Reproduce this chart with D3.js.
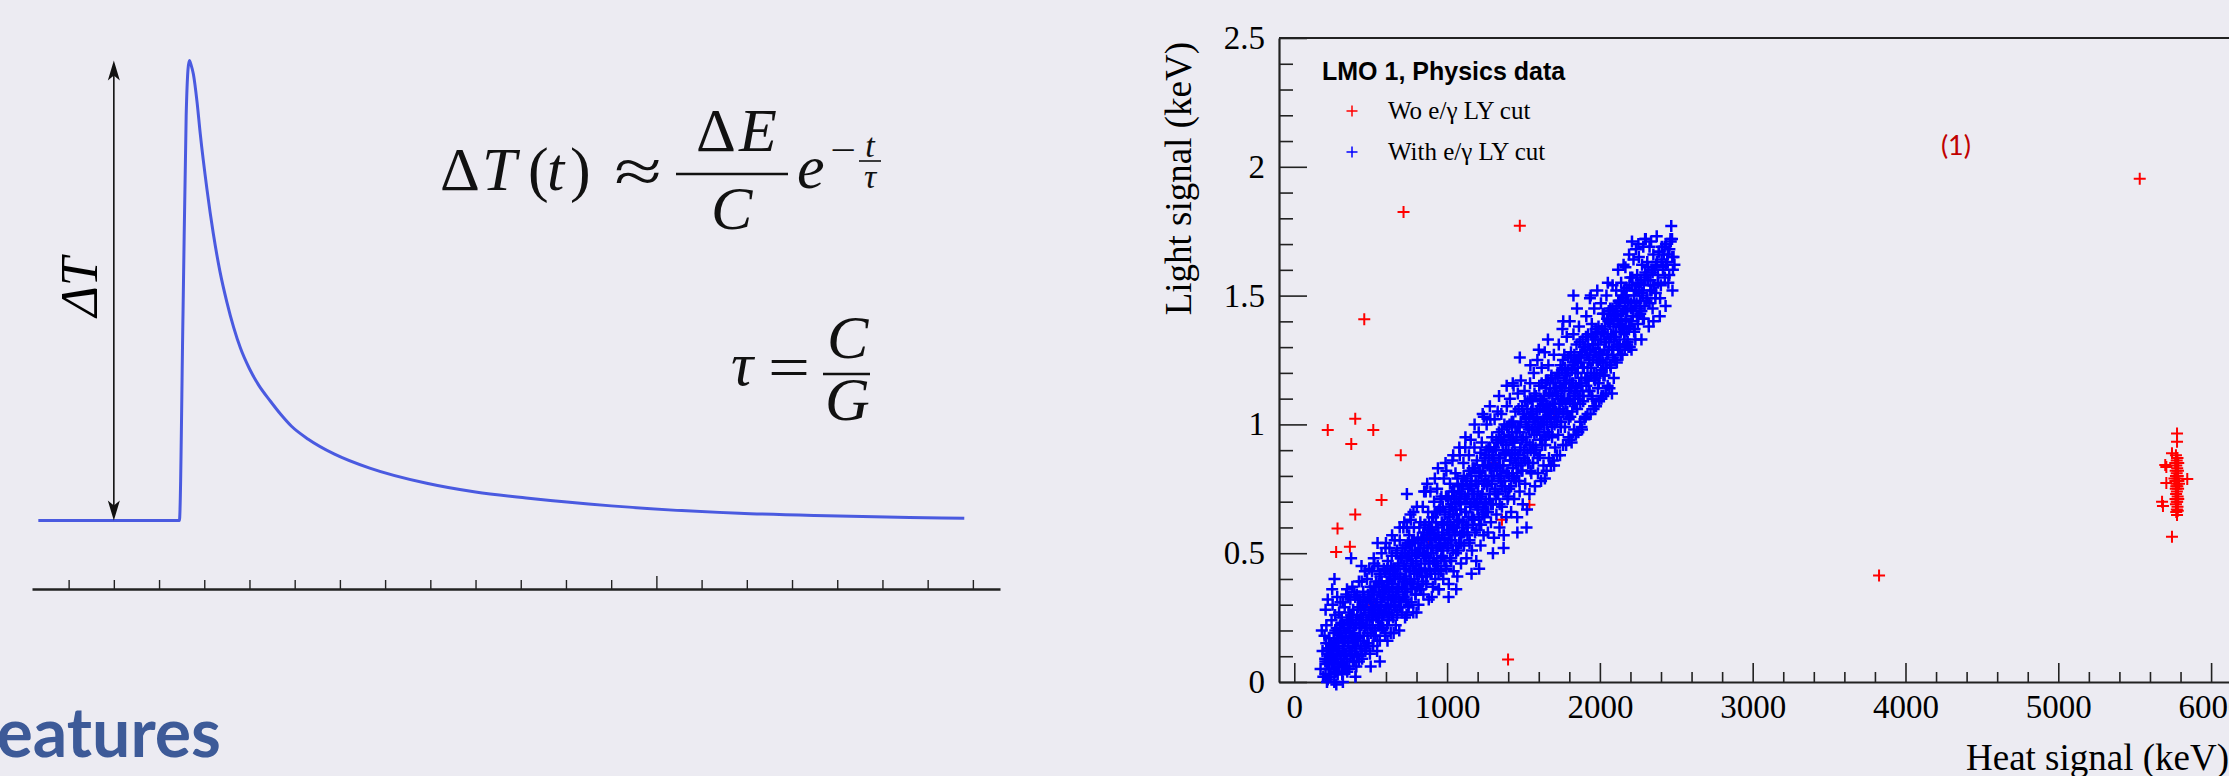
<!DOCTYPE html>
<html>
<head>
<meta charset="utf-8">
<script src="https://cdn.jsdelivr.net/npm/d3@7"></script>
<style>
body { margin: 0; background: #ecebf2; }
svg { display: block; }
</style>
</head>
<body>
<div id="panel"></div>
<script>
// ---- left sketch: thermal pulse ----
var pulseT = [-0.67, 2.45, 2.53, 2.60, 2.64, 2.67, 2.71, 2.76, 2.84, 2.91, 3.06, 3.20, 3.35, 3.50, 3.65, 3.80, 4.00, 4.20, 4.46, 4.70, 4.93, 5.30, 5.87, 6.66, 7.92, 9.00, 10.12, 12.00, 14.83, 16.50, 18.60, 19.81];
var pulseV = [0, 0, 0.45, 0.88, 0.98, 1.0, 0.99, 0.97, 0.91, 0.842, 0.72, 0.624, 0.54, 0.475, 0.42, 0.375, 0.33, 0.295, 0.26, 0.23, 0.205, 0.177, 0.145, 0.114, 0.081, 0.062, 0.049, 0.032, 0.016, 0.011, 0.007, 0.005];
var pulseTicks = [0, 1, 2, 3, 4, 5, 6, 7, 8, 9, 10, 11, 12, 13, 14, 15, 16, 17, 18, 19, 20];

// ---- right chart: light vs heat ----
var xTicks = [0, 1000, 2000, 3000, 4000, 5000, 6000];
var yTicks = [0, 0.5, 1, 1.5, 2, 2.5];
var yTickLabels = ["0", "0.5", "1", "1.5", "2", "2.5"];
var seriesNames = ["Wo e/\u03b3 LY cut", "With e/\u03b3 LY cut"];

// events without the e/gamma light-yield cut (only the visible ones matter)
var woCut = [
  [715,1.825],[1476,1.771],[5533,1.954],[458,1.408],[219,0.978],[399,1.022],[517,0.978],[373,0.924],
  [697,0.880],[571,0.707],[399,0.650],[283,0.596],[274,0.505],[364,0.525],[1539,0.688],[1359,0.630],
  [3827,0.413],[1399,0.087],[520,0.30],[880,0.55],[1300,0.85],[1700,1.05],
  [5777,0.965],[5777,0.933],[5744,0.888],[5700,0.842],[5707,0.835],[5707,0.773],[5844,0.788],[5679,0.700],
  [5685,0.683],[5744,0.564],[5777,0.648],
  [5770,0.88],[5780,0.87],[5775,0.86],[5765,0.85],[5785,0.85],[5772,0.84],[5778,0.83],[5768,0.82],
  [5783,0.82],[5775,0.81],[5770,0.80],[5780,0.79],[5766,0.78],[5786,0.78],[5774,0.77],[5779,0.76],
  [5769,0.75],[5784,0.75],[5776,0.74],[5771,0.73],[5781,0.72],[5767,0.71],[5785,0.71],[5775,0.70],
  [5770,0.69],[5780,0.68],[5776,0.67],[5772,0.66],[5782,0.665],[5778,0.70],[5772,0.76],[5782,0.80],
  [5790,0.77],[5760,0.79]
];

// events passing the cut: scattered part of the band
var withCutEdge = [
  [172,0.05],[185,0.12],[190,0.02],[198,0.18],[203,0.08],[210,0.22],[214,0.0],[219,0.13],[224,0.05],[228,0.17],[205,0.28],[219,0.32],[180,0.20],[232,0.10],
  [236,0.02],[240,0.15],[244,0.24],[247,0.07],[251,0.30],[254,0.11],[258,0.19],[262,0.0],[265,0.04],[267,0.26],[270,0.14],[274,0.09],[277,0.21],[281,0.33],[284,0.03],[287,0.17],[290,0.12],[293,0.27],[296,0.06],[299,0.22],[263,0.40],[275,-0.01],[248,0.36],
  [302,0.31],[305,0.09],[308,0.18],[311,0.25],[314,0.03],[318,0.31],[321,0.14],[324,0.22],[327,0.06],[330,0.29],[334,0.11],[337,0.19],[340,0.34],[344,0.08],[347,0.24],[350,0.15],[353,0.33],[357,0.27],[360,0.05],[363,0.20],[367,0.32],[370,0.12],[373,0.23],[377,0.17],[372,0.48],[345,0.36],[318,0.0],[380,0.37],
  [383,0.08],[386,0.28],[389,0.19],[393,0.35],[396,0.13],[399,0.33],[403,0.24],[406,0.06],[409,0.34],[413,0.17],[416,0.29],[420,0.10],[423,0.39],[427,0.21],[430,0.32],[434,0.14],[437,0.26],[441,0.39],[444,0.09],[448,0.23],[451,0.35],[455,0.18],[458,0.28],[462,0.43],[465,0.12],[469,0.31],[440,0.45],[400,0.02],
  [473,0.22],[476,0.40],[480,0.15],[484,0.33],[487,0.26],[491,0.44],[495,0.11],[498,0.37],[502,0.19],[505,0.29],[509,0.43],[513,0.24],[516,0.14],[520,0.34],[524,0.46],[527,0.27],[531,0.18],[535,0.39],[538,0.31],[542,0.12],[546,0.45],[549,0.22],[553,0.35],[557,0.28],[560,0.16],[564,0.41],[568,0.30],[571,0.50],[575,0.21],[579,0.37],[500,0.06],[545,0.54],[560,0.08],[520,0.48],
  [583,0.26],[586,0.44],[590,0.33],[594,0.18],[597,0.52],[601,0.29],[605,0.39],[608,0.22],[612,0.47],[616,0.35],[620,0.27],[623,0.52],[627,0.41],[631,0.19],[634,0.32],[638,0.49],[642,0.37],[646,0.25],[649,0.44],[653,0.30],[657,0.55],[660,0.40],[664,0.22],[668,0.34],[672,0.51],[675,0.28],[679,0.45],[683,0.37],[687,0.20],[690,0.55],[694,0.42],[698,0.31],[610,0.16],[650,0.19],[640,0.57],[690,0.60],[600,0.54],
  [702,0.48],[706,0.27],[710,0.39],[714,0.60],[717,0.33],[721,0.45],[725,0.25],[729,0.53],[733,0.41],[737,0.60],[740,0.35],[744,0.49],[748,0.29],[752,0.57],[756,0.43],[760,0.38],[763,0.63],[767,0.31],[771,0.51],[775,0.45],[779,0.27],[783,0.60],[786,0.40],[790,0.54],[794,0.34],[798,0.47],[802,0.68],[806,0.37],[809,0.56],[813,0.30],[817,0.50],[821,0.43],[825,0.62],[829,0.36],[735,0.26],[780,0.66],[800,0.27],[760,0.65],[720,0.62],[737,0.73],
  [833,0.55],[837,0.41],[841,0.68],[845,0.34],[848,0.49],[852,0.61],[856,0.44],[860,0.74],[864,0.38],[868,0.57],[872,0.50],[876,0.66],[880,0.32],[884,0.46],[888,0.59],[891,0.74],[895,0.42],[899,0.53],[903,0.64],[907,0.37],[911,0.48],[915,0.70],[919,0.56],[923,0.40],[927,0.62],[931,0.51],[935,0.75],[939,0.45],[943,0.58],[947,0.36],[951,0.67],[955,0.53],[959,0.43],[870,0.77],[920,0.79],[900,0.33],[945,0.36],[850,0.74],[940,0.83],
  [963,0.72],[967,0.49],[971,0.61],[975,0.40],[979,0.79],[983,0.56],[987,0.66],[991,0.45],[995,0.82],[999,0.59],[1003,0.52],[1007,0.71],[1011,0.38],[1015,0.64],[1019,0.77],[1023,0.55],[1027,0.47],[1031,0.68],[1035,0.86],[1039,0.60],[1043,0.43],[1047,0.74],[1051,0.57],[1055,0.81],[1059,0.50],[1063,0.65],[1067,0.41],[1071,0.76],[1075,0.62],[1079,0.54],[1083,0.88],[1087,0.69],[1091,0.46],[1095,0.73],[1099,0.58],[990,0.85],[1040,0.88],[1010,0.33],[1060,0.36],[1080,0.91],
  [1103,0.62],[1107,0.85],[1111,0.53],[1115,0.71],[1119,0.91],[1123,0.66],[1127,0.48],[1131,0.79],[1135,0.60],[1139,0.73],[1143,0.88],[1147,0.55],[1151,0.68],[1155,0.94],[1159,0.76],[1163,0.51],[1167,0.83],[1171,0.64],[1175,0.70],[1179,0.91],[1183,0.58],[1187,0.78],[1191,0.47],[1195,0.86],[1199,0.67],[1203,0.74],[1207,0.97],[1211,0.61],[1215,0.81],[1219,0.53],[1223,0.72],[1227,0.93],[1231,0.65],[1235,0.84],[1239,0.57],[1243,0.77],[1247,0.69],[1120,0.95],[1180,1.00],[1160,0.42],[1210,0.44],[1240,1.03],[1233,1.04],
  [1251,0.88],[1255,0.66],[1259,1.00],[1263,0.77],[1267,0.58],[1271,0.91],[1275,0.71],[1279,0.83],[1283,1.02],[1287,0.62],[1291,0.80],[1295,0.95],[1299,0.69],[1303,0.86],[1307,0.56],[1311,1.02],[1315,0.75],[1319,0.90],[1323,0.65],[1327,0.82],[1331,1.05],[1335,0.73],[1339,0.97],[1343,0.60],[1347,0.87],[1351,0.78],[1355,1.04],[1359,0.68],[1363,0.93],[1367,0.84],[1371,0.57],[1375,1.00],[1379,0.76],[1383,0.89],[1387,0.64],[1391,1.07],[1395,0.81],[1399,0.72],[1280,1.07],[1340,1.11],[1300,0.50],[1370,0.52],[1390,1.15],
  [1403,0.96],[1407,0.75],[1411,1.10],[1415,0.86],[1419,0.66],[1423,1.01],[1427,0.80],[1431,0.93],[1435,1.15],[1439,0.71],[1443,0.89],[1447,1.05],[1451,0.78],[1455,0.97],[1459,0.64],[1463,1.12],[1467,0.84],[1471,0.99],[1475,0.74],[1479,0.91],[1483,1.17],[1487,0.82],[1491,1.07],[1495,0.69],[1499,0.95],[1503,0.87],[1507,1.13],[1511,0.77],[1515,1.02],[1519,0.93],[1523,0.67],[1527,1.09],[1531,0.85],[1535,0.98],[1539,0.73],[1543,1.16],[1547,0.90],[1551,0.81],[1555,1.04],[1476,1.26],[1430,1.16],[1520,0.60],[1460,0.58],[1545,1.23],
  [1559,1.06],[1563,0.85],[1567,1.20],[1571,0.96],[1575,0.76],[1579,1.11],[1583,0.90],[1587,1.03],[1591,1.25],[1595,0.81],[1599,0.99],[1603,1.15],[1607,0.88],[1611,1.07],[1615,0.78],[1619,1.22],[1623,0.94],[1627,1.09],[1631,0.84],[1635,1.01],[1639,1.28],[1643,0.92],[1647,1.17],[1651,0.82],[1655,1.05],[1659,0.97],[1663,1.23],[1667,0.87],[1671,1.12],[1675,1.03],[1679,0.84],[1683,1.19],[1687,0.95],[1691,1.08],[1695,0.86],[1699,1.27],[1703,1.00],[1707,0.91],[1711,1.14],[1715,1.05],[1719,0.88],[1600,1.29],[1660,1.33],[1640,0.79],[1700,0.84],
  [1723,1.18],[1727,0.96],[1731,1.31],[1735,1.06],[1739,0.88],[1743,1.23],[1747,1.01],[1751,1.14],[1755,1.37],[1759,0.92],[1763,1.10],[1767,1.27],[1771,0.99],[1775,1.19],[1779,0.92],[1783,1.34],[1787,1.05],[1791,1.21],[1795,0.95],[1799,1.13],[1803,1.40],[1807,1.03],[1811,1.28],[1815,0.93],[1819,1.16],[1823,1.08],[1827,1.35],[1831,0.98],[1835,1.24],[1839,1.12],[1843,0.96],[1847,1.31],[1851,1.06],[1855,1.20],[1859,0.97],[1863,1.38],[1867,1.11],[1871,1.01],[1875,1.26],[1879,1.15],[1883,0.98],[1887,1.33],[1891,1.09],[1895,1.22],[1899,1.02],[1760,1.40],[1800,0.94],[1880,0.99],[1850,1.45],[1827,1.50],
  [1903,1.29],[1907,1.03],[1911,1.42],[1915,1.18],[1919,1.04],[1923,1.35],[1927,1.13],[1931,1.26],[1935,1.49],[1939,1.04],[1943,1.22],[1947,1.39],[1951,1.10],[1955,1.31],[1959,1.06],[1963,1.45],[1967,1.17],[1971,1.33],[1975,1.07],[1979,1.25],[1983,1.52],[1987,1.14],[1991,1.38],[1995,1.09],[1999,1.28],[2003,1.20],[2007,1.47],[2011,1.11],[2015,1.36],[2019,1.24],[2023,1.11],[2027,1.43],[2031,1.19],[2035,1.32],[2039,1.12],[2043,1.50],[2047,1.27],[2051,1.15],[2055,1.40],[2059,1.30],[2063,1.14],[2067,1.45],[2071,1.22],[2075,1.35],[2079,1.12],[2083,1.54],[2087,1.29],[2091,1.18],[2095,1.42],[2099,1.25],[1962,1.07],[2052,1.55],[1940,1.50],[2010,1.10],
  [2103,1.34],[2107,1.52],[2111,1.24],[2115,1.43],[2119,1.60],[2123,1.30],[2127,1.47],[2131,1.38],[2135,1.27],[2139,1.55],[2143,1.50],[2147,1.27],[2151,1.44],[2155,1.62],[2159,1.35],[2163,1.29],[2167,1.61],[2171,1.41],[2175,1.53],[2179,1.31],[2183,1.48],[2187,1.30],[2191,1.66],[2195,1.38],[2199,1.57],[2203,1.45],[2207,1.29],[2210,1.71],[2212,1.57],[2216,1.42],[2220,1.64],[2224,1.36],[2228,1.52],[2232,1.33],[2236,1.68],[2240,1.47],[2244,1.58],[2248,1.39],[2252,1.70],[2255,1.65],[2260,1.45],[2264,1.43],[2268,1.55],[2272,1.33],[2276,1.62],[2280,1.50],[2284,1.69],[2288,1.41],[2292,1.57],[2296,1.72],[2300,1.72],
  [2305,1.48],[2310,1.63],[2315,1.56],[2320,1.38],[2325,1.69],[2330,1.52],[2335,1.71],[2340,1.60],[2345,1.45],[2350,1.66],[2355,1.54],[2363,1.49],[2368,1.62],[2372,1.73],[2380,1.58],[2385,1.67],[2392,1.42],[2399,1.54],[2405,1.69],[2413,1.61],[2418,1.66],[2425,1.57],[2432,1.70],[2440,1.63],[2448,1.55],[2455,1.68],[2462,1.72],[2467,1.77],[2472,1.72],[2478,1.60],[2482,1.65],[2488,1.62],[2475,1.52],[2430,1.46],[2350,1.40]
];

// events passing the cut: dense core of the band
var withCutCore = [
  [202,0.09],[205,0.03],[209,0.15],[212,0.07],[216,0.11],[219,0.01],[223,0.08],[226,0.13],[230,0.05],[233,0.15],[237,0.03],[240,0.11],[244,0.07],[247,0.14],[251,0.08],[254,0.13],[258,0.05],[261,0.16],[265,0.09],[268,0.20],[272,0.04],[275,0.15],[279,0.11],[282,0.17],[286,0.07],[289,0.13],[293,0.06],[296,0.19],
  [302,0.20],[305,0.10],[309,0.23],[312,0.07],[316,0.17],[319,0.13],[323,0.21],[326,0.09],[330,0.16],[333,0.06],[337,0.19],[340,0.11],[344,0.24],[347,0.04],[351,0.21],[354,0.16],[358,0.24],[361,0.12],[365,0.19],[368,0.10],[372,0.26],[375,0.18],[379,0.11],[382,0.25],[386,0.15],[389,0.21],[393,0.08],[396,0.17],
  [402,0.14],[405,0.22],[409,0.10],[412,0.26],[416,0.16],[419,0.32],[423,0.08],[426,0.24],[430,0.18],[433,0.28],[437,0.13],[440,0.22],[444,0.11],[447,0.30],[451,0.25],[454,0.16],[458,0.33],[461,0.21],[465,0.28],[468,0.13],[472,0.24],[475,0.31],[479,0.19],[482,0.34],[486,0.15],[489,0.27],[493,0.22],[496,0.32],
  [502,0.31],[505,0.25],[509,0.35],[512,0.21],[516,0.29],[519,0.18],[523,0.37],[526,0.28],[530,0.20],[533,0.37],[537,0.25],[540,0.32],[544,0.16],[547,0.27],[551,0.38],[554,0.26],[558,0.42],[561,0.22],[565,0.34],[568,0.30],[572,0.39],[575,0.25],[579,0.33],[582,0.21],[586,0.37],[589,0.27],[593,0.43],[596,0.19],
  [602,0.36],[605,0.27],[609,0.44],[612,0.32],[616,0.39],[619,0.24],[623,0.35],[626,0.42],[630,0.30],[633,0.45],[637,0.26],[640,0.38],[644,0.33],[647,0.43],[651,0.32],[654,0.41],[658,0.29],[661,0.44],[665,0.35],[668,0.50],[672,0.26],[675,0.42],[679,0.36],[682,0.46],[686,0.32],[689,0.40],[693,0.29],[696,0.48],
  [702,0.49],[705,0.37],[709,0.52],[712,0.33],[716,0.45],[719,0.40],[723,0.50],[726,0.36],[730,0.44],[733,0.32],[737,0.48],[740,0.38],[744,0.54],[747,0.30],[751,0.49],[754,0.43],[758,0.53],[761,0.39],[765,0.47],[768,0.36],[772,0.55],[775,0.46],[779,0.38],[782,0.55],[786,0.43],[789,0.50],[793,0.34],[796,0.45],
  [802,0.42],[805,0.50],[809,0.38],[812,0.54],[816,0.44],[819,0.60],[823,0.36],[826,0.52],[830,0.46],[833,0.56],[837,0.41],[840,0.50],[844,0.39],[847,0.58],[851,0.53],[854,0.44],[858,0.61],[861,0.49],[865,0.56],[868,0.41],[872,0.52],[875,0.59],[879,0.47],[882,0.62],[886,0.43],[889,0.55],[893,0.50],[896,0.60],
  [902,0.59],[905,0.52],[909,0.64],[912,0.47],[916,0.57],[919,0.44],[923,0.66],[926,0.56],[930,0.46],[933,0.66],[937,0.52],[940,0.60],[944,0.42],[947,0.55],[951,0.67],[954,0.53],[958,0.71],[961,0.48],[965,0.62],[968,0.57],[972,0.68],[975,0.51],[979,0.61],[982,0.47],[986,0.65],[989,0.54],[993,0.72],[996,0.44],
  [1002,0.62],[1005,0.53],[1009,0.72],[1012,0.58],[1016,0.67],[1019,0.48],[1023,0.61],[1026,0.69],[1030,0.55],[1033,0.74],[1037,0.51],[1040,0.65],[1044,0.60],[1047,0.71],[1051,0.58],[1054,0.67],[1058,0.53],[1061,0.72],[1065,0.60],[1068,0.79],[1072,0.51],[1075,0.70],[1079,0.63],[1082,0.74],[1086,0.57],[1089,0.67],[1093,0.54],[1096,0.77],
  [1102,0.76],[1105,0.62],[1109,0.80],[1112,0.58],[1116,0.72],[1119,0.66],[1123,0.78],[1126,0.61],[1130,0.71],[1133,0.57],[1137,0.75],[1140,0.64],[1144,0.82],[1147,0.54],[1151,0.76],[1154,0.69],[1158,0.80],[1161,0.64],[1165,0.73],[1168,0.61],[1172,0.83],[1175,0.73],[1179,0.63],[1182,0.83],[1186,0.69],[1189,0.77],[1193,0.59],[1196,0.71],
  [1202,0.68],[1205,0.78],[1209,0.64],[1212,0.82],[1216,0.71],[1219,0.89],[1223,0.61],[1226,0.80],[1230,0.73],[1233,0.84],[1237,0.67],[1240,0.77],[1244,0.64],[1247,0.87],[1251,0.80],[1254,0.70],[1258,0.90],[1261,0.76],[1265,0.84],[1268,0.66],[1272,0.78],[1275,0.87],[1279,0.73],[1282,0.91],[1286,0.69],[1289,0.83],[1293,0.77],[1296,0.88],
  [1302,0.87],[1305,0.80],[1309,0.91],[1312,0.74],[1316,0.84],[1319,0.71],[1323,0.94],[1326,0.83],[1330,0.73],[1333,0.93],[1337,0.79],[1340,0.87],[1344,0.69],[1347,0.82],[1351,0.94],[1354,0.80],[1358,0.98],[1361,0.76],[1365,0.90],[1368,0.84],[1372,0.95],[1375,0.78],[1379,0.88],[1382,0.74],[1386,0.92],[1389,0.81],[1393,0.99],[1396,0.71],
  [1402,0.90],[1405,0.80],[1409,1.00],[1412,0.86],[1416,0.94],[1419,0.76],[1423,0.89],[1426,0.97],[1430,0.83],[1433,1.01],[1437,0.79],[1440,0.93],[1444,0.87],[1447,0.99],[1451,0.85],[1454,0.95],[1458,0.81],[1461,0.99],[1465,0.88],[1468,1.06],[1472,0.78],[1475,0.97],[1479,0.90],[1482,1.01],[1486,0.85],[1489,0.94],[1493,0.82],[1496,1.04],
  [1502,1.04],[1505,0.90],[1509,1.09],[1512,0.86],[1516,1.00],[1519,0.95],[1523,1.06],[1526,0.89],[1530,0.99],[1533,0.85],[1537,1.03],[1540,0.92],[1544,1.10],[1547,0.82],[1551,1.05],[1554,0.98],[1558,1.09],[1561,0.92],[1565,1.02],[1568,0.89],[1572,1.12],[1575,1.01],[1579,0.91],[1582,1.11],[1586,0.97],[1589,1.05],[1593,0.87],[1596,1.00],
  [1602,0.98],[1605,1.06],[1609,0.94],[1612,1.10],[1616,1.00],[1619,1.16],[1623,0.92],[1626,1.08],[1630,1.02],[1633,1.11],[1637,0.97],[1640,1.05],[1644,0.95],[1647,1.14],[1651,1.08],[1654,1.00],[1658,1.17],[1661,1.05],[1665,1.12],[1668,0.96],[1672,1.07],[1675,1.14],[1679,1.02],[1682,1.18],[1686,0.99],[1689,1.11],[1693,1.06],[1696,1.16],
  [1702,1.14],[1705,1.08],[1709,1.18],[1712,1.04],[1716,1.12],[1719,1.01],[1723,1.20],[1726,1.11],[1730,1.03],[1733,1.20],[1737,1.08],[1740,1.15],[1744,0.99],[1747,1.10],[1751,1.21],[1754,1.09],[1758,1.25],[1761,1.05],[1765,1.17],[1768,1.13],[1772,1.22],[1775,1.08],[1779,1.16],[1782,1.04],[1786,1.20],[1789,1.10],[1793,1.26],[1796,1.02],
  [1802,1.17],[1805,1.09],[1809,1.26],[1812,1.14],[1816,1.21],[1819,1.05],[1823,1.16],[1826,1.23],[1830,1.11],[1833,1.27],[1837,1.08],[1840,1.20],[1844,1.15],[1847,1.25],[1851,1.14],[1854,1.22],[1858,1.10],[1861,1.26],[1865,1.16],[1868,1.32],[1872,1.08],[1875,1.24],[1879,1.18],[1882,1.28],[1886,1.13],[1889,1.22],[1893,1.11],[1896,1.30],
  [1902,1.30],[1905,1.18],[1909,1.34],[1912,1.15],[1916,1.27],[1919,1.22],[1923,1.31],[1926,1.17],[1930,1.25],[1933,1.13],[1937,1.29],[1940,1.19],[1944,1.35],[1947,1.11],[1951,1.31],[1954,1.25],[1958,1.34],[1961,1.20],[1965,1.28],[1968,1.18],[1972,1.37],[1975,1.28],[1979,1.19],[1982,1.36],[1986,1.24],[1989,1.31],[1993,1.16],[1996,1.27],
  [2002,1.25],[2005,1.33],[2009,1.21],[2012,1.37],[2016,1.27],[2019,1.43],[2023,1.19],[2026,1.35],[2030,1.29],[2033,1.38],[2037,1.24],[2040,1.32],[2044,1.22],[2047,1.41],[2051,1.35],[2054,1.27],[2058,1.44],[2061,1.32],[2065,1.39],[2068,1.23],[2072,1.34],[2075,1.41],[2079,1.29],[2082,1.45],[2086,1.26],[2089,1.38],[2093,1.33],[2096,1.43],
  [2102,1.42],[2105,1.36],[2109,1.46],[2112,1.31],[2116,1.40],[2119,1.29],[2123,1.48],[2126,1.39],[2130,1.31],[2133,1.48],[2137,1.36],[2140,1.43],[2144,1.27],[2147,1.38],[2151,1.49],[2154,1.37],[2158,1.52],[2161,1.33],[2165,1.45],[2168,1.40],[2172,1.50],[2175,1.36],[2179,1.44],[2182,1.32],[2186,1.48],[2189,1.38],[2193,1.54],[2196,1.30],
  [2202,1.47],[2207,1.40],[2212,1.54],[2217,1.44],[2222,1.50],[2227,1.37],[2232,1.46],[2237,1.52],[2242,1.42],[2247,1.55],[2252,1.42],[2257,1.52],[2262,1.48],[2267,1.56],[2272,1.44],[2277,1.51],[2282,1.41],[2287,1.54],[2292,1.46],[2297,1.59],
  [2303,1.58],[2310,1.49],[2317,1.61],[2324,1.47],[2331,1.56],[2338,1.52],[2345,1.59],[2352,1.54],[2359,1.60],[2366,1.51],[2373,1.63],[2380,1.55],[2387,1.67],[2394,1.49],
  [2404,1.64],[2414,1.60],[2424,1.69],[2434,1.62],[2444,1.66],[2454,1.58],[2464,1.71],[2474,1.65]
];

var withCut = withCutEdge.concat(withCutCore);

var W = 2229, H = 776;
var serif = "'Liberation Serif', 'Times New Roman', serif";

var svg = d3.select("#panel").append("svg")
    .attr("width", W)
    .attr("height", H);

svg.append("rect").attr("width", W).attr("height", H).attr("fill", "#ecebf2");

// ================= left sketch =================
var t = d3.scaleLinear().domain([-0.81, 20.6]).range([32, 1000]),
    v = d3.scaleLinear().domain([0, 1]).range([520.6, 60.5]);

var tAxis = svg.append("g")
    .attr("transform", "translate(0,589)")
    .call(d3.axisBottom(t).tickValues(pulseTicks).tickSize(-9).tickSizeOuter(0).tickFormat(""));
tAxis.select(".domain").attr("stroke", "#222").attr("stroke-width", 2.5);
tAxis.selectAll(".tick line").attr("stroke", "#222").attr("stroke-width", 1.4)
    .filter(function(d) { return d === 13; }).attr("y2", -13);

var pulse = d3.line()
    .x(function(d, i) { return t(pulseT[i]); })
    .y(function(d, i) { return v(pulseV[i]); })
    .curve(d3.curveMonotoneX);

svg.append("path")
    .datum(pulseT)
    .attr("fill", "none")
    .attr("stroke", "#4a5ae0")
    .attr("stroke-width", 3)
    .attr("stroke-linejoin", "round")
    .attr("d", pulse);

// double arrow showing the amplitude
var ax = t(1);
svg.append("line")
    .attr("x1", ax).attr("x2", ax)
    .attr("y1", v(1) + 8).attr("y2", v(0) - 8)
    .attr("stroke", "#111").attr("stroke-width", 1.6);
svg.append("path")
    .attr("d", "M" + ax + "," + v(1) + "l-6,20l6,-5l6,5z")
    .attr("fill", "#111");
svg.append("path")
    .attr("d", "M" + ax + "," + v(0) + "l-6,-20l6,5l6,-5z")
    .attr("fill", "#111");

svg.append("text")
    .attr("transform", "translate(97,287) rotate(-90)")
    .attr("text-anchor", "middle")
    .style("font-family", serif)
    .style("font-style", "italic")
    .style("font-size", "52px")
    .text("\u0394T");

// formulas
function mtxt(x, yb, s, size, italic, anchor, sx) {
  svg.append("text")
    .attr("transform", "translate(" + x + "," + yb + ")" + (sx ? " scale(" + sx + ",1)" : ""))
    .attr("text-anchor", anchor || "start")
    .style("font-family", serif)
    .style("font-style", italic ? "italic" : "normal")
    .style("font-size", size + "px")
    .attr("fill", "#111")
    .text(s);
}
mtxt(440, 190, "\u0394", 62, false);
mtxt(482, 190, "T", 62, true);
mtxt(528, 190, "(", 62, false);
mtxt(547, 190, "t", 62, true);
mtxt(570, 190, ")", 62, false);
mtxt(638, 192, "\u2248", 62, false, "middle", 1.4);
mtxt(696, 151, "\u0394", 62, false);
mtxt(739, 151, "E", 62, true);
svg.append("line").attr("x1", 676).attr("x2", 788).attr("y1", 174).attr("y2", 174)
    .attr("stroke", "#111").attr("stroke-width", 2.5);
mtxt(711, 229, "C", 62, true);
mtxt(797, 188, "e", 62, true);
mtxt(843, 163, "\u2212", 38, false, "middle", 1.2);
mtxt(870, 157, "t", 34, true, "middle");
svg.append("line").attr("x1", 859).attr("x2", 881).attr("y1", 161).attr("y2", 161)
    .attr("stroke", "#111").attr("stroke-width", 1.6);
mtxt(870, 188, "\u03c4", 34, true, "middle");

mtxt(731, 385, "\u03c4", 62, true);
mtxt(789, 388, "=", 62, false, "middle", 1.2);
mtxt(827, 358, "C", 62, true);
svg.append("line").attr("x1", 823).attr("x2", 870).attr("y1", 374).attr("y2", 374)
    .attr("stroke", "#111").attr("stroke-width", 2.5);
mtxt(825, 420, "G", 62, true);

// slide heading fragment
svg.append("text")
    .attr("x", 221).attr("y", 757)
    .attr("text-anchor", "end")
    .style("font-family", "Lato, 'Open Sans', sans-serif")
    .style("font-weight", "bold")
    .style("font-size", "68px")
    .attr("fill", "#3d5a98")
    .text("Features");

// ================= right chart =================
var x = d3.scaleLinear().domain([-100, 6500]).range([1279, 2287.5]),
    y = d3.scaleLinear().domain([0, 2.5]).range([682, 38]);

// top frame line
svg.append("line")
    .attr("x1", x(-100)).attr("x2", W + 5)
    .attr("y1", y(2.5)).attr("y2", y(2.5))
    .attr("stroke", "#222").attr("stroke-width", 2);

var yMinor = d3.range(0, 2.51, 0.1).filter(function(d) { return Math.abs(d * 2 - Math.round(d * 2)) > 1e-6; });
var xMinor = d3.range(0, 6600, 200).filter(function(d) { return d % 1000 !== 0; });

var gy = svg.append("g")
    .attr("transform", "translate(" + x(-100) + ",0)")
    .call(d3.axisLeft(y).tickValues(yTicks).tickSize(-28).tickSizeOuter(0).tickPadding(14)
      .tickFormat(function(d, i) { return yTickLabels[i]; }));
svg.append("g")
    .attr("transform", "translate(" + x(-100) + ",0)")
    .call(d3.axisLeft(y).tickValues(yMinor).tickSize(-14).tickFormat(""))
    .call(function(g) { g.select(".domain").remove(); })
    .selectAll(".tick line").attr("stroke", "#222").attr("stroke-width", 1.6);

var gx = svg.append("g")
    .attr("transform", "translate(0," + y(0) + ")")
    .call(d3.axisBottom(x).tickValues(xTicks).tickSize(-19).tickSizeOuter(0).tickPadding(12.6)
      .tickFormat(d3.format("d")));
svg.append("g")
    .attr("transform", "translate(0," + y(0) + ")")
    .call(d3.axisBottom(x).tickValues(xMinor).tickSize(-10).tickFormat(""))
    .call(function(g) { g.select(".domain").remove(); })
    .selectAll(".tick line").attr("stroke", "#222").attr("stroke-width", 1.6);

[gx, gy].forEach(function(g) {
  g.select(".domain").attr("stroke", "#222").attr("stroke-width", 2.2);
  g.selectAll(".tick line").attr("stroke", "#222").attr("stroke-width", 1.6);
  g.selectAll(".tick text")
    .attr("fill", "#000")
    .style("font-family", serif)
    .style("font-size", "33px");
});

svg.append("text")
    .attr("x", 1966).attr("y", 770)
    .style("font-family", serif)
    .style("font-size", "37px")
    .attr("fill", "#000")
    .text("Heat signal (keV)");

svg.append("text")
    .attr("transform", "translate(1191,42) rotate(-90)")
    .attr("text-anchor", "end")
    .style("font-family", serif)
    .style("font-size", "37px")
    .attr("fill", "#000")
    .text("Light signal (keV)");

var plus = "M-6,0H6M0,-6V6";

svg.append("g").selectAll("path")
    .data(woCut)
  .join("path")
    .attr("transform", function(d) { return "translate(" + x(d[0]) + "," + y(d[1]) + ")"; })
    .attr("d", plus)
    .attr("fill", "none")
    .attr("stroke", "#ff0000")
    .attr("stroke-width", 2);

svg.append("g").selectAll("path")
    .data(withCut)
  .join("path")
    .attr("transform", function(d) { return "translate(" + x(d[0]) + "," + y(d[1]) + ")"; })
    .attr("d", plus)
    .attr("fill", "none")
    .attr("stroke", "#0000ff")
    .attr("stroke-width", 2.5);

// legend
svg.append("text")
    .attr("x", 1322).attr("y", 80)
    .style("font-family", "'Liberation Sans', Arial, sans-serif")
    .style("font-weight", "bold")
    .style("font-size", "25px")
    .attr("fill", "#000")
    .text("LMO 1, Physics data");

var legend = svg.append("g").selectAll("g")
    .data(seriesNames)
  .join("g")
    .attr("transform", function(d, i) { return "translate(1352," + (111 + i * 41) + ")"; });
legend.append("path")
    .attr("d", "M-5.5,0H5.5M0,-5.5V5.5")
    .attr("fill", "none")
    .attr("stroke", function(d, i) { return i ? "#0000ff" : "#ff0000"; })
    .attr("stroke-width", 1.5);
legend.append("text")
    .attr("x", 36).attr("y", 8)
    .style("font-family", serif)
    .style("font-size", "25px")
    .attr("fill", "#000")
    .text(function(d) { return d; });

svg.append("text")
    .attr("x", x(4330)).attr("y", 155)
    .attr("text-anchor", "middle")
    .style("font-family", "Lato, 'Open Sans', sans-serif")
    .style("font-size", "27px")
    .attr("fill", "#c00000")
    .text("(1)");
</script>
</body>
</html>
